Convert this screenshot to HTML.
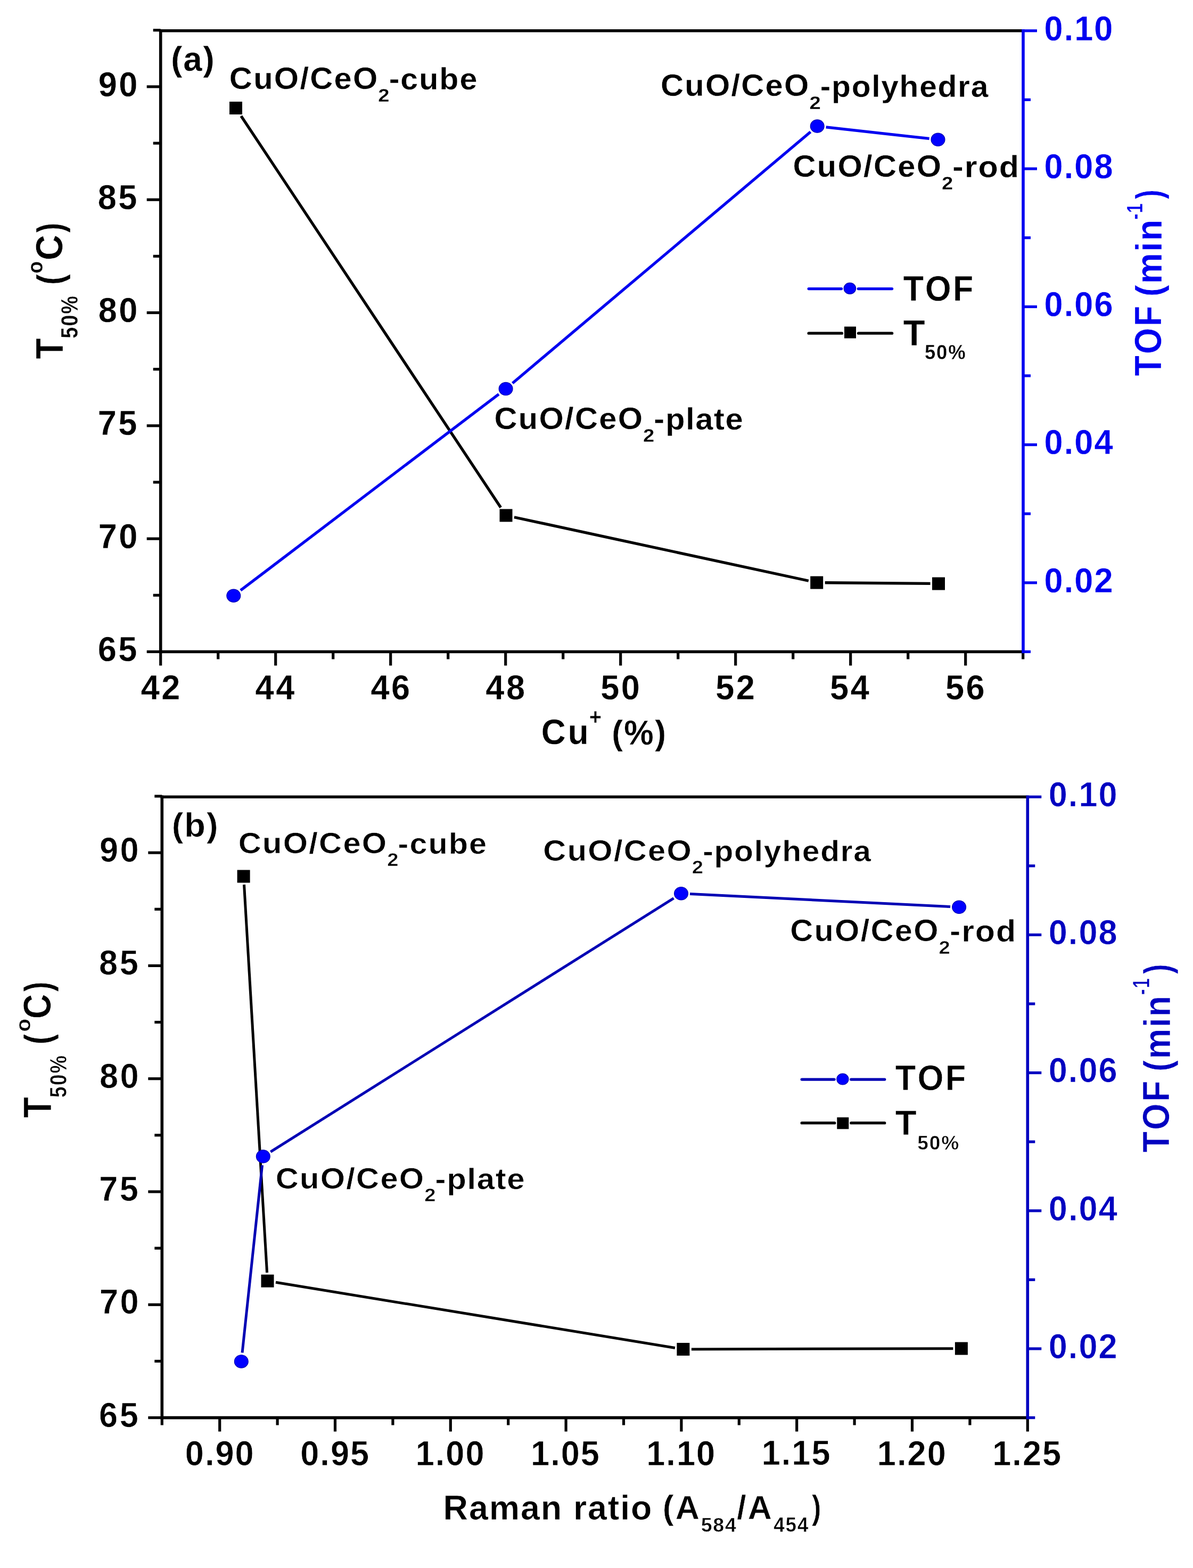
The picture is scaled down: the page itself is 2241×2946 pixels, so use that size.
<!DOCTYPE html>
<html><head><meta charset="utf-8"><title>T50% and TOF vs Cu+ and Raman ratio</title>
<style>html,body{margin:0;padding:0;background:#fff;overflow:hidden;}svg{display:block;}text{font-kerning:none;}</style>
</head><body>
<svg width="2241" height="2946" viewBox="0 0 2241 2946">
<rect width="2241" height="2946" fill="#fff"/>
<g font-family="'Liberation Sans', Arial, sans-serif">
<line x1="298.90" y1="57.80" x2="1922.00" y2="57.80" stroke="#000000" stroke-width="5.6" stroke-linecap="butt"/>
<line x1="298.90" y1="1224.50" x2="1922.00" y2="1224.50" stroke="#000000" stroke-width="5.6" stroke-linecap="butt"/>
<line x1="301.70" y1="55.00" x2="301.70" y2="1227.30" stroke="#000000" stroke-width="5.6" stroke-linecap="butt"/>
<line x1="275.70" y1="1224.50" x2="301.70" y2="1224.50" stroke="#000000" stroke-width="5.2" stroke-linecap="butt"/>
<line x1="287.70" y1="1118.34" x2="301.70" y2="1118.34" stroke="#000000" stroke-width="5.2" stroke-linecap="butt"/>
<line x1="275.70" y1="1012.18" x2="301.70" y2="1012.18" stroke="#000000" stroke-width="5.2" stroke-linecap="butt"/>
<line x1="287.70" y1="906.02" x2="301.70" y2="906.02" stroke="#000000" stroke-width="5.2" stroke-linecap="butt"/>
<line x1="275.70" y1="799.86" x2="301.70" y2="799.86" stroke="#000000" stroke-width="5.2" stroke-linecap="butt"/>
<line x1="287.70" y1="693.70" x2="301.70" y2="693.70" stroke="#000000" stroke-width="5.2" stroke-linecap="butt"/>
<line x1="275.70" y1="587.54" x2="301.70" y2="587.54" stroke="#000000" stroke-width="5.2" stroke-linecap="butt"/>
<line x1="287.70" y1="481.38" x2="301.70" y2="481.38" stroke="#000000" stroke-width="5.2" stroke-linecap="butt"/>
<line x1="275.70" y1="375.22" x2="301.70" y2="375.22" stroke="#000000" stroke-width="5.2" stroke-linecap="butt"/>
<line x1="287.70" y1="269.06" x2="301.70" y2="269.06" stroke="#000000" stroke-width="5.2" stroke-linecap="butt"/>
<line x1="275.70" y1="162.90" x2="301.70" y2="162.90" stroke="#000000" stroke-width="5.2" stroke-linecap="butt"/>
<line x1="287.70" y1="56.74" x2="301.70" y2="56.74" stroke="#000000" stroke-width="5.2" stroke-linecap="butt"/>
<line x1="301.70" y1="1224.50" x2="301.70" y2="1250.50" stroke="#000000" stroke-width="5.2" stroke-linecap="butt"/>
<line x1="409.70" y1="1224.50" x2="409.70" y2="1238.50" stroke="#000000" stroke-width="5.2" stroke-linecap="butt"/>
<line x1="517.70" y1="1224.50" x2="517.70" y2="1250.50" stroke="#000000" stroke-width="5.2" stroke-linecap="butt"/>
<line x1="625.70" y1="1224.50" x2="625.70" y2="1238.50" stroke="#000000" stroke-width="5.2" stroke-linecap="butt"/>
<line x1="733.70" y1="1224.50" x2="733.70" y2="1250.50" stroke="#000000" stroke-width="5.2" stroke-linecap="butt"/>
<line x1="841.70" y1="1224.50" x2="841.70" y2="1238.50" stroke="#000000" stroke-width="5.2" stroke-linecap="butt"/>
<line x1="949.70" y1="1224.50" x2="949.70" y2="1250.50" stroke="#000000" stroke-width="5.2" stroke-linecap="butt"/>
<line x1="1057.70" y1="1224.50" x2="1057.70" y2="1238.50" stroke="#000000" stroke-width="5.2" stroke-linecap="butt"/>
<line x1="1165.70" y1="1224.50" x2="1165.70" y2="1250.50" stroke="#000000" stroke-width="5.2" stroke-linecap="butt"/>
<line x1="1273.70" y1="1224.50" x2="1273.70" y2="1238.50" stroke="#000000" stroke-width="5.2" stroke-linecap="butt"/>
<line x1="1381.70" y1="1224.50" x2="1381.70" y2="1250.50" stroke="#000000" stroke-width="5.2" stroke-linecap="butt"/>
<line x1="1489.70" y1="1224.50" x2="1489.70" y2="1238.50" stroke="#000000" stroke-width="5.2" stroke-linecap="butt"/>
<line x1="1597.70" y1="1224.50" x2="1597.70" y2="1250.50" stroke="#000000" stroke-width="5.2" stroke-linecap="butt"/>
<line x1="1705.70" y1="1224.50" x2="1705.70" y2="1238.50" stroke="#000000" stroke-width="5.2" stroke-linecap="butt"/>
<line x1="1813.70" y1="1224.50" x2="1813.70" y2="1250.50" stroke="#000000" stroke-width="5.2" stroke-linecap="butt"/>
<line x1="1921.70" y1="1224.50" x2="1921.70" y2="1238.50" stroke="#000000" stroke-width="5.2" stroke-linecap="butt"/>
<line x1="1922.00" y1="55.00" x2="1922.00" y2="1227.30" stroke="#0000f0" stroke-width="5.6" stroke-linecap="butt"/>
<line x1="1922.00" y1="1224.50" x2="1936.00" y2="1224.50" stroke="#0000f0" stroke-width="5.2" stroke-linecap="butt"/>
<line x1="1922.00" y1="1094.87" x2="1948.00" y2="1094.87" stroke="#0000f0" stroke-width="5.2" stroke-linecap="butt"/>
<line x1="1922.00" y1="965.23" x2="1936.00" y2="965.23" stroke="#0000f0" stroke-width="5.2" stroke-linecap="butt"/>
<line x1="1922.00" y1="835.60" x2="1948.00" y2="835.60" stroke="#0000f0" stroke-width="5.2" stroke-linecap="butt"/>
<line x1="1922.00" y1="705.97" x2="1936.00" y2="705.97" stroke="#0000f0" stroke-width="5.2" stroke-linecap="butt"/>
<line x1="1922.00" y1="576.33" x2="1948.00" y2="576.33" stroke="#0000f0" stroke-width="5.2" stroke-linecap="butt"/>
<line x1="1922.00" y1="446.70" x2="1936.00" y2="446.70" stroke="#0000f0" stroke-width="5.2" stroke-linecap="butt"/>
<line x1="1922.00" y1="317.07" x2="1948.00" y2="317.07" stroke="#0000f0" stroke-width="5.2" stroke-linecap="butt"/>
<line x1="1922.00" y1="187.43" x2="1936.00" y2="187.43" stroke="#0000f0" stroke-width="5.2" stroke-linecap="butt"/>
<line x1="1922.00" y1="57.80" x2="1948.00" y2="57.80" stroke="#0000f0" stroke-width="5.2" stroke-linecap="butt"/>
<line x1="301.50" y1="1497.20" x2="1930.30" y2="1497.20" stroke="#000000" stroke-width="5.6" stroke-linecap="butt"/>
<line x1="301.50" y1="2663.60" x2="1930.30" y2="2663.60" stroke="#000000" stroke-width="5.6" stroke-linecap="butt"/>
<line x1="304.30" y1="1494.40" x2="304.30" y2="2666.40" stroke="#000000" stroke-width="5.6" stroke-linecap="butt"/>
<line x1="278.30" y1="2663.60" x2="304.30" y2="2663.60" stroke="#000000" stroke-width="5.2" stroke-linecap="butt"/>
<line x1="290.30" y1="2557.45" x2="304.30" y2="2557.45" stroke="#000000" stroke-width="5.2" stroke-linecap="butt"/>
<line x1="278.30" y1="2451.30" x2="304.30" y2="2451.30" stroke="#000000" stroke-width="5.2" stroke-linecap="butt"/>
<line x1="290.30" y1="2345.15" x2="304.30" y2="2345.15" stroke="#000000" stroke-width="5.2" stroke-linecap="butt"/>
<line x1="278.30" y1="2239.00" x2="304.30" y2="2239.00" stroke="#000000" stroke-width="5.2" stroke-linecap="butt"/>
<line x1="290.30" y1="2132.85" x2="304.30" y2="2132.85" stroke="#000000" stroke-width="5.2" stroke-linecap="butt"/>
<line x1="278.30" y1="2026.70" x2="304.30" y2="2026.70" stroke="#000000" stroke-width="5.2" stroke-linecap="butt"/>
<line x1="290.30" y1="1920.55" x2="304.30" y2="1920.55" stroke="#000000" stroke-width="5.2" stroke-linecap="butt"/>
<line x1="278.30" y1="1814.40" x2="304.30" y2="1814.40" stroke="#000000" stroke-width="5.2" stroke-linecap="butt"/>
<line x1="290.30" y1="1708.25" x2="304.30" y2="1708.25" stroke="#000000" stroke-width="5.2" stroke-linecap="butt"/>
<line x1="278.30" y1="1602.10" x2="304.30" y2="1602.10" stroke="#000000" stroke-width="5.2" stroke-linecap="butt"/>
<line x1="290.30" y1="1495.95" x2="304.30" y2="1495.95" stroke="#000000" stroke-width="5.2" stroke-linecap="butt"/>
<line x1="304.30" y1="2663.60" x2="304.30" y2="2677.60" stroke="#000000" stroke-width="5.2" stroke-linecap="butt"/>
<line x1="412.70" y1="2663.60" x2="412.70" y2="2689.60" stroke="#000000" stroke-width="5.2" stroke-linecap="butt"/>
<line x1="521.10" y1="2663.60" x2="521.10" y2="2677.60" stroke="#000000" stroke-width="5.2" stroke-linecap="butt"/>
<line x1="629.50" y1="2663.60" x2="629.50" y2="2689.60" stroke="#000000" stroke-width="5.2" stroke-linecap="butt"/>
<line x1="737.90" y1="2663.60" x2="737.90" y2="2677.60" stroke="#000000" stroke-width="5.2" stroke-linecap="butt"/>
<line x1="846.30" y1="2663.60" x2="846.30" y2="2689.60" stroke="#000000" stroke-width="5.2" stroke-linecap="butt"/>
<line x1="954.70" y1="2663.60" x2="954.70" y2="2677.60" stroke="#000000" stroke-width="5.2" stroke-linecap="butt"/>
<line x1="1063.10" y1="2663.60" x2="1063.10" y2="2689.60" stroke="#000000" stroke-width="5.2" stroke-linecap="butt"/>
<line x1="1171.50" y1="2663.60" x2="1171.50" y2="2677.60" stroke="#000000" stroke-width="5.2" stroke-linecap="butt"/>
<line x1="1279.90" y1="2663.60" x2="1279.90" y2="2689.60" stroke="#000000" stroke-width="5.2" stroke-linecap="butt"/>
<line x1="1388.30" y1="2663.60" x2="1388.30" y2="2677.60" stroke="#000000" stroke-width="5.2" stroke-linecap="butt"/>
<line x1="1496.70" y1="2663.60" x2="1496.70" y2="2689.60" stroke="#000000" stroke-width="5.2" stroke-linecap="butt"/>
<line x1="1605.10" y1="2663.60" x2="1605.10" y2="2677.60" stroke="#000000" stroke-width="5.2" stroke-linecap="butt"/>
<line x1="1713.50" y1="2663.60" x2="1713.50" y2="2689.60" stroke="#000000" stroke-width="5.2" stroke-linecap="butt"/>
<line x1="1821.90" y1="2663.60" x2="1821.90" y2="2677.60" stroke="#000000" stroke-width="5.2" stroke-linecap="butt"/>
<line x1="1930.30" y1="2663.60" x2="1930.30" y2="2689.60" stroke="#000000" stroke-width="5.2" stroke-linecap="butt"/>
<line x1="1930.30" y1="1494.40" x2="1930.30" y2="2666.40" stroke="#0000c0" stroke-width="5.6" stroke-linecap="butt"/>
<line x1="1930.30" y1="2663.60" x2="1944.30" y2="2663.60" stroke="#0000c0" stroke-width="5.2" stroke-linecap="butt"/>
<line x1="1930.30" y1="2534.00" x2="1956.30" y2="2534.00" stroke="#0000c0" stroke-width="5.2" stroke-linecap="butt"/>
<line x1="1930.30" y1="2404.40" x2="1944.30" y2="2404.40" stroke="#0000c0" stroke-width="5.2" stroke-linecap="butt"/>
<line x1="1930.30" y1="2274.80" x2="1956.30" y2="2274.80" stroke="#0000c0" stroke-width="5.2" stroke-linecap="butt"/>
<line x1="1930.30" y1="2145.20" x2="1944.30" y2="2145.20" stroke="#0000c0" stroke-width="5.2" stroke-linecap="butt"/>
<line x1="1930.30" y1="2015.60" x2="1956.30" y2="2015.60" stroke="#0000c0" stroke-width="5.2" stroke-linecap="butt"/>
<line x1="1930.30" y1="1886.00" x2="1944.30" y2="1886.00" stroke="#0000c0" stroke-width="5.2" stroke-linecap="butt"/>
<line x1="1930.30" y1="1756.40" x2="1956.30" y2="1756.40" stroke="#0000c0" stroke-width="5.2" stroke-linecap="butt"/>
<line x1="1930.30" y1="1626.80" x2="1944.30" y2="1626.80" stroke="#0000c0" stroke-width="5.2" stroke-linecap="butt"/>
<line x1="1930.30" y1="1497.20" x2="1956.30" y2="1497.20" stroke="#0000c0" stroke-width="5.2" stroke-linecap="butt"/>
<text transform="translate(183.81 1242.24) scale(0.9675 1)" font-size="65.20" font-weight="bold" fill="#000000" letter-spacing="3.60" stroke="#fff" stroke-width="0.30">65</text>
<text transform="translate(184.71 1029.92) scale(0.9675 1)" font-size="65.20" font-weight="bold" fill="#000000" letter-spacing="3.53" stroke="#fff" stroke-width="0.30">70</text>
<text transform="translate(183.83 817.27) scale(0.9675 1)" font-size="65.20" font-weight="bold" fill="#000000" letter-spacing="3.57" stroke="#fff" stroke-width="0.30">75</text>
<text transform="translate(184.67 605.28) scale(0.9675 1)" font-size="65.20" font-weight="bold" fill="#000000" letter-spacing="3.57" stroke="#fff" stroke-width="0.30">80</text>
<text transform="translate(183.80 392.96) scale(0.9675 1)" font-size="65.20" font-weight="bold" fill="#000000" letter-spacing="3.61" stroke="#fff" stroke-width="0.30">85</text>
<text transform="translate(184.68 180.64) scale(0.9675 1)" font-size="65.20" font-weight="bold" fill="#000000" letter-spacing="3.56" stroke="#fff" stroke-width="0.30">90</text>
<text transform="translate(264.65 1314.46) scale(0.9675 1)" font-size="65.20" font-weight="bold" fill="#000000" letter-spacing="3.63" stroke="#fff" stroke-width="0.30">42</text>
<text transform="translate(479.50 1314.13) scale(0.9675 1)" font-size="65.20" font-weight="bold" fill="#000000" letter-spacing="3.75" stroke="#fff" stroke-width="0.30">44</text>
<text transform="translate(696.52 1314.14) scale(0.9675 1)" font-size="65.20" font-weight="bold" fill="#000000" letter-spacing="3.64" stroke="#fff" stroke-width="0.30">46</text>
<text transform="translate(912.34 1314.14) scale(0.9675 1)" font-size="65.20" font-weight="bold" fill="#000000" letter-spacing="3.66" stroke="#fff" stroke-width="0.30">48</text>
<text transform="translate(1128.21 1314.14) scale(0.9675 1)" font-size="65.20" font-weight="bold" fill="#000000" letter-spacing="3.57" stroke="#fff" stroke-width="0.30">50</text>
<text transform="translate(1344.18 1314.14) scale(0.9675 1)" font-size="65.20" font-weight="bold" fill="#000000" letter-spacing="3.57" stroke="#fff" stroke-width="0.30">52</text>
<text transform="translate(1559.03 1313.81) scale(0.9675 1)" font-size="65.20" font-weight="bold" fill="#000000" letter-spacing="3.69" stroke="#fff" stroke-width="0.30">54</text>
<text transform="translate(1776.05 1314.14) scale(0.9675 1)" font-size="65.20" font-weight="bold" fill="#000000" letter-spacing="3.59" stroke="#fff" stroke-width="0.30">56</text>
<text transform="translate(1961.51 1112.71) scale(0.9675 1)" font-size="65.20" font-weight="bold" fill="#0000f0" letter-spacing="2.14" stroke="#fff" stroke-width="0.30">0.02</text>
<text transform="translate(1961.51 853.44) scale(0.9675 1)" font-size="65.20" font-weight="bold" fill="#0000f0" letter-spacing="2.17" stroke="#fff" stroke-width="0.30">0.04</text>
<text transform="translate(1961.51 594.18) scale(0.9675 1)" font-size="65.20" font-weight="bold" fill="#0000f0" letter-spacing="2.14" stroke="#fff" stroke-width="0.30">0.06</text>
<text transform="translate(1961.51 334.91) scale(0.9675 1)" font-size="65.20" font-weight="bold" fill="#0000f0" letter-spacing="2.15" stroke="#fff" stroke-width="0.30">0.08</text>
<text transform="translate(1961.51 75.64) scale(0.9675 1)" font-size="65.20" font-weight="bold" fill="#0000f0" letter-spacing="2.13" stroke="#fff" stroke-width="0.30">0.10</text>
<text transform="translate(186.11 2680.64) scale(0.9675 1)" font-size="65.20" font-weight="bold" fill="#000000" letter-spacing="3.60" stroke="#fff" stroke-width="0.60">65</text>
<text transform="translate(187.01 2468.34) scale(0.9675 1)" font-size="65.20" font-weight="bold" fill="#000000" letter-spacing="3.53" stroke="#fff" stroke-width="0.60">70</text>
<text transform="translate(186.13 2255.71) scale(0.9675 1)" font-size="65.20" font-weight="bold" fill="#000000" letter-spacing="3.57" stroke="#fff" stroke-width="0.60">75</text>
<text transform="translate(186.97 2043.74) scale(0.9675 1)" font-size="65.20" font-weight="bold" fill="#000000" letter-spacing="3.57" stroke="#fff" stroke-width="0.60">80</text>
<text transform="translate(186.10 1831.44) scale(0.9675 1)" font-size="65.20" font-weight="bold" fill="#000000" letter-spacing="3.61" stroke="#fff" stroke-width="0.60">85</text>
<text transform="translate(186.98 1619.14) scale(0.9675 1)" font-size="65.20" font-weight="bold" fill="#000000" letter-spacing="3.56" stroke="#fff" stroke-width="0.60">90</text>
<text transform="translate(347.76 2752.64) scale(0.9675 1)" font-size="65.20" font-weight="bold" fill="#000000" letter-spacing="2.13" stroke="#fff" stroke-width="0.60">0.90</text>
<text transform="translate(564.13 2752.64) scale(0.9675 1)" font-size="65.20" font-weight="bold" fill="#000000" letter-spacing="2.15" stroke="#fff" stroke-width="0.60">0.95</text>
<text transform="translate(780.66 2752.64) scale(0.9675 1)" font-size="65.20" font-weight="bold" fill="#000000" letter-spacing="2.11" stroke="#fff" stroke-width="0.60">1.00</text>
<text transform="translate(997.03 2752.64) scale(0.9675 1)" font-size="65.20" font-weight="bold" fill="#000000" letter-spacing="2.12" stroke="#fff" stroke-width="0.60">1.05</text>
<text transform="translate(1214.26 2752.64) scale(0.9675 1)" font-size="65.20" font-weight="bold" fill="#000000" letter-spacing="2.11" stroke="#fff" stroke-width="0.60">1.10</text>
<text transform="translate(1430.63 2752.31) scale(0.9675 1)" font-size="65.20" font-weight="bold" fill="#000000" letter-spacing="2.12" stroke="#fff" stroke-width="0.60">1.15</text>
<text transform="translate(1647.86 2752.64) scale(0.9675 1)" font-size="65.20" font-weight="bold" fill="#000000" letter-spacing="2.11" stroke="#fff" stroke-width="0.60">1.20</text>
<text transform="translate(1864.23 2752.64) scale(0.9675 1)" font-size="65.20" font-weight="bold" fill="#000000" letter-spacing="2.12" stroke="#fff" stroke-width="0.60">1.25</text>
<text transform="translate(1969.71 2551.84) scale(0.9675 1)" font-size="65.20" font-weight="bold" fill="#0000c0" letter-spacing="2.14" stroke="#fff" stroke-width="0.60">0.02</text>
<text transform="translate(1969.71 2292.64) scale(0.9675 1)" font-size="65.20" font-weight="bold" fill="#0000c0" letter-spacing="2.17" stroke="#fff" stroke-width="0.60">0.04</text>
<text transform="translate(1969.71 2033.44) scale(0.9675 1)" font-size="65.20" font-weight="bold" fill="#0000c0" letter-spacing="2.14" stroke="#fff" stroke-width="0.60">0.06</text>
<text transform="translate(1969.71 1774.24) scale(0.9675 1)" font-size="65.20" font-weight="bold" fill="#0000c0" letter-spacing="2.15" stroke="#fff" stroke-width="0.60">0.08</text>
<text transform="translate(1969.71 1515.04) scale(0.9675 1)" font-size="65.20" font-weight="bold" fill="#0000c0" letter-spacing="2.13" stroke="#fff" stroke-width="0.60">0.10</text>
<line x1="452.89" y1="217.92" x2="940.61" y2="953.48" stroke="#000000" stroke-width="5.3" stroke-linecap="butt"/>
<line x1="965.92" y1="971.73" x2="1518.78" y2="1091.27" stroke="#000000" stroke-width="5.3" stroke-linecap="butt"/>
<line x1="1549.70" y1="1094.74" x2="1747.50" y2="1096.46" stroke="#000000" stroke-width="5.3" stroke-linecap="butt"/>
<rect x="431.00" y="191.00" width="24" height="24" fill="#000000"/>
<rect x="938.50" y="956.40" width="24" height="24" fill="#000000"/>
<rect x="1522.20" y="1082.60" width="24" height="24" fill="#000000"/>
<rect x="1751.00" y="1084.60" width="24" height="24" fill="#000000"/>
<line x1="451.94" y1="1109.22" x2="936.96" y2="740.58" stroke="#0000f0" stroke-width="5.3" stroke-linecap="butt"/>
<line x1="962.71" y1="719.96" x2="1522.59" y2="247.74" stroke="#0000f0" stroke-width="5.3" stroke-linecap="butt"/>
<line x1="1551.60" y1="238.92" x2="1745.60" y2="260.48" stroke="#0000f0" stroke-width="5.3" stroke-linecap="butt"/>
<ellipse cx="438.80" cy="1119.20" rx="12.92" ry="12.14" fill="#0000ff" stroke="#0000b0" stroke-width="1.2"/>
<ellipse cx="950.10" cy="730.60" rx="12.92" ry="12.14" fill="#0000ff" stroke="#0000b0" stroke-width="1.2"/>
<ellipse cx="1535.20" cy="237.10" rx="12.92" ry="12.14" fill="#0000ff" stroke="#0000b0" stroke-width="1.2"/>
<ellipse cx="1762.00" cy="262.30" rx="12.92" ry="12.14" fill="#0000ff" stroke="#0000b0" stroke-width="1.2"/>
<line x1="458.52" y1="1661.99" x2="501.58" y2="2391.21" stroke="#000000" stroke-width="5.0" stroke-linecap="butt"/>
<line x1="517.95" y1="2409.24" x2="1267.95" y2="2532.46" stroke="#000000" stroke-width="5.0" stroke-linecap="butt"/>
<line x1="1298.90" y1="2534.96" x2="1790.40" y2="2533.64" stroke="#000000" stroke-width="5.0" stroke-linecap="butt"/>
<rect x="445.60" y="1634.50" width="24" height="24" fill="#000000"/>
<rect x="490.50" y="2394.70" width="24" height="24" fill="#000000"/>
<rect x="1271.40" y="2523.00" width="24" height="24" fill="#000000"/>
<rect x="1793.90" y="2521.60" width="24" height="24" fill="#000000"/>
<line x1="455.05" y1="2541.49" x2="492.55" y2="2189.21" stroke="#0000b4" stroke-width="5.0" stroke-linecap="butt"/>
<line x1="508.27" y1="2164.01" x2="1265.53" y2="1687.59" stroke="#0000b4" stroke-width="5.0" stroke-linecap="butt"/>
<line x1="1295.98" y1="1679.60" x2="1785.12" y2="1703.50" stroke="#0000b4" stroke-width="5.0" stroke-linecap="butt"/>
<ellipse cx="453.30" cy="2557.90" rx="12.92" ry="12.14" fill="#0000ff" stroke="#0000b0" stroke-width="1.2"/>
<ellipse cx="494.30" cy="2172.80" rx="12.92" ry="12.14" fill="#0000ff" stroke="#0000b0" stroke-width="1.2"/>
<ellipse cx="1279.50" cy="1678.80" rx="12.92" ry="12.14" fill="#0000ff" stroke="#0000b0" stroke-width="1.2"/>
<ellipse cx="1801.60" cy="1704.30" rx="12.92" ry="12.14" fill="#0000ff" stroke="#0000b0" stroke-width="1.2"/>
<text transform="translate(321.24 132.64) scale(0.9861 1)" font-size="64.37" font-weight="bold" fill="#000000" letter-spacing="1.90" stroke="#fff" stroke-width="0.30">(a)</text>
<text transform="translate(322.67 1571.75) scale(1.0158 1)" font-size="63.83" font-weight="bold" fill="#000000" letter-spacing="1.98" stroke="#fff" stroke-width="0.60">(b)</text>
<text transform="translate(430.86 166.55) scale(1.0364 1)" font-size="57.48" font-weight="bold" fill="#000000" letter-spacing="2.20" stroke="#fff" stroke-width="0.30">CuO/CeO</text>
<text transform="translate(710.28 190.70) scale(1.1119 1)" font-size="34.37" font-weight="bold" fill="#000000" stroke="#fff" stroke-width="0.30">2</text>
<text transform="translate(730.69 167.70) scale(1.0278 1)" font-size="57.48" font-weight="bold" fill="#000000" letter-spacing="1.96" stroke="#fff" stroke-width="0.30">-cube</text>
<text transform="translate(1240.96 180.45) scale(1.0351 1)" font-size="57.55" font-weight="bold" fill="#000000" letter-spacing="2.20" stroke="#fff" stroke-width="0.30">CuO/CeO</text>
<text transform="translate(1520.38 204.60) scale(1.1119 1)" font-size="34.37" font-weight="bold" fill="#000000" stroke="#fff" stroke-width="0.30">2</text>
<text transform="translate(1540.81 181.60) scale(1.0193 1)" font-size="57.55" font-weight="bold" fill="#000000" letter-spacing="1.71" stroke="#fff" stroke-width="0.30">-polyhedra</text>
<text transform="translate(1489.56 331.84) scale(1.0315 1)" font-size="57.75" font-weight="bold" fill="#000000" letter-spacing="2.21" stroke="#fff" stroke-width="0.30">CuO/CeO</text>
<text transform="translate(1768.98 356.00) scale(1.1119 1)" font-size="34.37" font-weight="bold" fill="#000000" stroke="#fff" stroke-width="0.30">2</text>
<text transform="translate(1789.31 333.00) scale(1.0584 1)" font-size="57.75" font-weight="bold" fill="#000000" letter-spacing="1.86" stroke="#fff" stroke-width="0.30">-rod</text>
<text transform="translate(928.56 806.14) scale(1.0244 1)" font-size="58.15" font-weight="bold" fill="#000000" letter-spacing="2.22" stroke="#fff" stroke-width="0.30">CuO/CeO</text>
<text transform="translate(1207.98 830.30) scale(1.1119 1)" font-size="34.37" font-weight="bold" fill="#000000" stroke="#fff" stroke-width="0.30">2</text>
<text transform="translate(1228.37 807.30) scale(1.0273 1)" font-size="58.15" font-weight="bold" fill="#000000" letter-spacing="1.59" stroke="#fff" stroke-width="0.30">-plate</text>
<text transform="translate(447.76 1602.88) scale(1.0637 1)" font-size="56.00" font-weight="bold" fill="#000000" letter-spacing="2.14" stroke="#fff" stroke-width="0.60">CuO/CeO</text>
<text transform="translate(727.18 1627.00) scale(1.1119 1)" font-size="34.37" font-weight="bold" fill="#000000" stroke="#fff" stroke-width="0.60">2</text>
<text transform="translate(747.58 1604.00) scale(1.0608 1)" font-size="56.00" font-weight="bold" fill="#000000" letter-spacing="1.91" stroke="#fff" stroke-width="0.60">-cube</text>
<text transform="translate(1020.36 1617.08) scale(1.0637 1)" font-size="56.00" font-weight="bold" fill="#000000" letter-spacing="2.14" stroke="#fff" stroke-width="0.60">CuO/CeO</text>
<text transform="translate(1299.78 1641.20) scale(1.1119 1)" font-size="34.37" font-weight="bold" fill="#000000" stroke="#fff" stroke-width="0.60">2</text>
<text transform="translate(1320.21 1618.20) scale(1.0487 1)" font-size="56.00" font-weight="bold" fill="#000000" letter-spacing="1.66" stroke="#fff" stroke-width="0.60">-polyhedra</text>
<text transform="translate(1484.16 1767.63) scale(1.0220 1)" font-size="58.28" font-weight="bold" fill="#000000" letter-spacing="2.23" stroke="#fff" stroke-width="0.60">CuO/CeO</text>
<text transform="translate(1763.58 1791.80) scale(1.1119 1)" font-size="34.37" font-weight="bold" fill="#000000" stroke="#fff" stroke-width="0.60">2</text>
<text transform="translate(1783.92 1768.80) scale(1.0459 1)" font-size="58.28" font-weight="bold" fill="#000000" letter-spacing="1.88" stroke="#fff" stroke-width="0.60">-rod</text>
<text transform="translate(517.76 2233.28) scale(1.0637 1)" font-size="56.00" font-weight="bold" fill="#000000" letter-spacing="2.14" stroke="#fff" stroke-width="0.60">CuO/CeO</text>
<text transform="translate(797.18 2257.40) scale(1.1119 1)" font-size="34.37" font-weight="bold" fill="#000000" stroke="#fff" stroke-width="0.60">2</text>
<text transform="translate(817.56 2234.40) scale(1.0707 1)" font-size="56.00" font-weight="bold" fill="#000000" letter-spacing="1.53" stroke="#fff" stroke-width="0.60">-plate</text>
<line x1="1519.10" y1="542.60" x2="1580.55" y2="542.60" stroke="#0000f0" stroke-width="5.2" stroke-linecap="round"/>
<line x1="1612.25" y1="542.60" x2="1675.60" y2="542.60" stroke="#0000f0" stroke-width="5.2" stroke-linecap="round"/>
<ellipse cx="1596.40" cy="541.90" rx="11.20" ry="10.52" fill="#0000ff" stroke="#0000b0" stroke-width="1.2"/>
<line x1="1519.10" y1="626.20" x2="1581.50" y2="626.20" stroke="#000000" stroke-width="5.2" stroke-linecap="round"/>
<line x1="1612.50" y1="626.20" x2="1675.60" y2="626.20" stroke="#000000" stroke-width="5.2" stroke-linecap="round"/>
<rect x="1586.00" y="613.60" width="22" height="22" fill="#000000"/>
<text transform="translate(1696.70 564.65) scale(0.9422 1)" font-size="66.38" font-weight="bold" fill="#000000" letter-spacing="3.41" stroke="#fff" stroke-width="0.30">TOF</text>
<text transform="translate(1696.65 648.90) scale(0.9878 1)" font-size="67.73" font-weight="bold" fill="#000000" stroke="#fff" stroke-width="0.30">T</text>
<text transform="translate(1736.88 674.82) scale(0.9478 1)" font-size="38.56" font-weight="bold" fill="#000000" letter-spacing="1.97" stroke="#fff" stroke-width="0.30">50%</text>
<line x1="1506.10" y1="2028.10" x2="1567.15" y2="2028.10" stroke="#0000b4" stroke-width="5.2" stroke-linecap="round"/>
<line x1="1598.65" y1="2028.10" x2="1661.80" y2="2028.10" stroke="#0000b4" stroke-width="5.2" stroke-linecap="round"/>
<ellipse cx="1582.90" cy="2027.50" rx="11.10" ry="10.43" fill="#0000ff" stroke="#0000b0" stroke-width="1.2"/>
<line x1="1506.10" y1="2109.90" x2="1567.80" y2="2109.90" stroke="#000000" stroke-width="5.2" stroke-linecap="round"/>
<line x1="1598.80" y1="2109.90" x2="1661.80" y2="2109.90" stroke="#000000" stroke-width="5.2" stroke-linecap="round"/>
<rect x="1572.30" y="2099.30" width="22" height="22" fill="#000000"/>
<text transform="translate(1681.79 2048.25) scale(0.9483 1)" font-size="66.52" font-weight="bold" fill="#000000" letter-spacing="3.42" stroke="#fff" stroke-width="0.60">TOF</text>
<text transform="translate(1681.77 2131.80) scale(0.9996 1)" font-size="65.41" font-weight="bold" fill="#000000" stroke="#fff" stroke-width="0.60">T</text>
<text transform="translate(1723.16 2160.33) scale(0.9810 1)" font-size="37.85" font-weight="bold" fill="#000000" letter-spacing="1.94" stroke="#fff" stroke-width="0.60">50%</text>
<text transform="translate(1016.69 1398.10) scale(0.9512 1)" font-size="66.88" font-weight="bold" fill="#000000" letter-spacing="4.32" stroke="#fff" stroke-width="0.30">Cu</text>
<text transform="translate(1106.96 1361.02) scale(0.9253 1)" font-size="42.24" font-weight="bold" fill="#000000" stroke="#fff" stroke-width="0.30">+</text>
<text transform="translate(1149.19 1398.59) scale(0.9582 1)" font-size="65.12" font-weight="bold" fill="#000000" letter-spacing="2.49" stroke="#fff" stroke-width="0.30">(%)</text>
<text transform="translate(832.39 2854.87) scale(0.9951 1)" font-size="64.82" font-weight="bold" fill="#000000" letter-spacing="1.94" stroke="#fff" stroke-width="0.60">Raman ratio</text>
<text transform="translate(1244.78 2854.01) scale(0.9922 1)" font-size="63.08" font-weight="bold" fill="#000000" letter-spacing="3.25" stroke="#fff" stroke-width="0.60">(A</text>
<text transform="translate(1316.74 2878.33) scale(1.0076 1)" font-size="37.43" font-weight="bold" fill="#000000" letter-spacing="1.61" stroke="#fff" stroke-width="0.60">584</text>
<text transform="translate(1384.19 2854.23) scale(0.9843 1)" font-size="63.39" font-weight="bold" fill="#000000" letter-spacing="3.22" stroke="#fff" stroke-width="0.60">/A</text>
<text transform="translate(1453.24 2878.33) scale(0.9775 1)" font-size="37.98" font-weight="bold" fill="#000000" letter-spacing="1.65" stroke="#fff" stroke-width="0.60">454</text>
<text transform="translate(1524.95 2854.01) scale(0.8257 1)" font-size="63.08" font-weight="bold" fill="#000000" stroke="#fff" stroke-width="0.60">)</text>
<text transform="translate(117.70 674.52) scale(1.1382 1) rotate(-90)" font-size="63.85" font-weight="bold" fill="#000000" stroke="#fff" stroke-width="0.30">T</text>
<text transform="translate(145.76 635.77) scale(1.1756 1) rotate(-90)" font-size="37.96" font-weight="bold" fill="#000000" letter-spacing="1.94" stroke="#fff" stroke-width="0.30">50%</text>
<text transform="translate(117.92 535.28) scale(1.1574 1) rotate(-90)" font-size="59.88" font-weight="bold" fill="#000000" stroke="#fff" stroke-width="0.30">(</text>
<text transform="translate(79.60 513.77) scale(1.0842 1) rotate(-90)" font-size="37.54" font-weight="bold" fill="#000000" stroke="#fff" stroke-width="0.30">o</text>
<text transform="translate(117.01 488.91) scale(1.0688 1) rotate(-90)" font-size="66.07" font-weight="bold" fill="#000000" stroke="#fff" stroke-width="0.30">C</text>
<text transform="translate(117.92 437.05) scale(1.2619 1) rotate(-90)" font-size="54.92" font-weight="bold" fill="#000000" stroke="#fff" stroke-width="0.30">)</text>
<text transform="translate(96.20 2100.22) scale(1.1715 1) rotate(-90)" font-size="64.02" font-weight="bold" fill="#000000" stroke="#fff" stroke-width="0.60">T</text>
<text transform="translate(125.06 2062.16) scale(1.1863 1) rotate(-90)" font-size="37.62" font-weight="bold" fill="#000000" letter-spacing="1.93" stroke="#fff" stroke-width="0.60">50%</text>
<text transform="translate(95.44 1962.40) scale(1.1648 1) rotate(-90)" font-size="60.24" font-weight="bold" fill="#000000" stroke="#fff" stroke-width="0.60">(</text>
<text transform="translate(57.32 1938.58) scale(0.9724 1) rotate(-90)" font-size="40.36" font-weight="bold" fill="#000000" stroke="#fff" stroke-width="0.60">o</text>
<text transform="translate(95.49 1914.25) scale(1.1265 1) rotate(-90)" font-size="64.70" font-weight="bold" fill="#000000" stroke="#fff" stroke-width="0.60">C</text>
<text transform="translate(95.44 1863.16) scale(1.2299 1) rotate(-90)" font-size="57.05" font-weight="bold" fill="#000000" stroke="#fff" stroke-width="0.60">)</text>
<text transform="translate(2181.32 706.60) scale(1.1120 1) rotate(-90)" font-size="62.74" font-weight="bold" fill="#0000f0" letter-spacing="3.22" stroke="#fff" stroke-width="0.30">TOF</text>
<text transform="translate(2182.04 557.25) scale(1.0442 1) rotate(-90)" font-size="65.34" font-weight="bold" fill="#0000f0" letter-spacing="2.29" stroke="#fff" stroke-width="0.30">(min</text>
<text transform="translate(2145.90 412.47) scale(1.2982 1) rotate(-90)" font-size="32.58" font-weight="bold" fill="#0000f0" letter-spacing="1.41" stroke="#fff" stroke-width="0.30">-1</text>
<text transform="translate(2182.04 374.05) scale(1.2838 1) rotate(-90)" font-size="53.15" font-weight="bold" fill="#0000f0" stroke="#fff" stroke-width="0.30">)</text>
<text transform="translate(2196.31 2165.32) scale(1.1024 1) rotate(-90)" font-size="64.06" font-weight="bold" fill="#0000c0" letter-spacing="3.29" stroke="#fff" stroke-width="0.60">TOF</text>
<text transform="translate(2197.53 2013.20) scale(1.0869 1) rotate(-90)" font-size="64.16" font-weight="bold" fill="#0000c0" letter-spacing="2.25" stroke="#fff" stroke-width="0.60">(min</text>
<text transform="translate(2159.10 1869.32) scale(1.3313 1) rotate(-90)" font-size="33.74" font-weight="bold" fill="#0000c0" letter-spacing="1.46" stroke="#fff" stroke-width="0.60">-1</text>
<text transform="translate(2197.53 1830.06) scale(1.2378 1) rotate(-90)" font-size="56.34" font-weight="bold" fill="#0000c0" stroke="#fff" stroke-width="0.60">)</text>
</g>
</svg>
</body></html>
